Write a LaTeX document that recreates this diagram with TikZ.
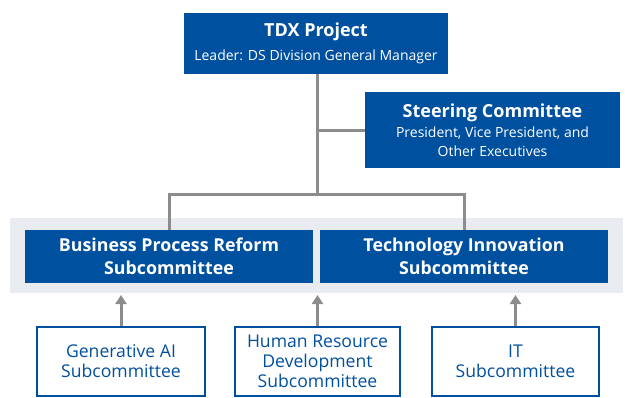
\documentclass[tikz,border=0pt]{standalone}
\usepackage{fontspec}
\setmainfont{Open Sans}
\usetikzlibrary{arrows.meta}
\definecolor{tblue}{RGB}{0,80,160}
\definecolor{tgray}{RGB}{140,140,140}
\definecolor{tband}{RGB}{232,236,240}
\newcommand{\ttl}{\fontsize{18}{22}\selectfont\bfseries}
\newcommand{\sbt}{\fontsize{14}{19}\selectfont\mdseries}
\tikzset{
  bluebox/.style={draw=none,fill=tblue,text=white,inner sep=0pt,align=center},
  midbox/.style={bluebox,minimum width=288pt,minimum height=53pt,font=\fontsize{17.8}{23}\selectfont\bfseries},
  subbox/.style={draw=tblue,line width=1.2pt,fill=white,text=tblue,inner sep=0pt,align=center,
     minimum height=69pt,font=\fontsize{17.6}{19.8}\selectfont},
  conn/.style={draw=tgray,line width=3pt},
  upar/.style={draw=tgray,line width=3pt,-{Triangle[width=11pt,length=9pt]}},
}
\begin{document}
\begin{tikzpicture}[x=1pt,y=-1pt]
\useasboundingbox (0,0) rectangle (628,397);
\fill[tband] (10,218) rectangle (623,293);
\node[bluebox,minimum width=264pt,minimum height=61pt] (tdx) at (316,43)
  {\ttl TDX Project\\[8pt]\sbt Leader: DS Division General Manager};
\node[bluebox,minimum width=255pt,minimum height=76pt] (steer) at (492.5,130)
  {\ttl Steering Committee\\[4pt]\sbt President, Vice President, and\\[6pt]\sbt Other Executives};
\node[midbox] (bpr) at (169,256.5) {Business Process Reform\\Subcommittee};
\node[midbox] (tech) at (464,256.5) {Technology Innovation\\Subcommittee};
\node[subbox,minimum width=168pt] (gen) at (121,361.5) {Generative AI\\Subcommittee};
\node[subbox,minimum width=165pt] (hrd) at (317.5,361.5) {Human Resource\\Development\\Subcommittee};
\node[subbox,minimum width=167pt] (it) at (515.5,361.5) {IT\\Subcommittee};
\coordinate (jn) at (317,194);
\draw[conn] (tdx.south -| jn) -- (jn);
\draw[conn] (317,130) -- (steer.west);
\draw[conn] (bpr.north) |- (jn) -| (tech.north);
\draw[upar] (gen.north) -- ([yshift=-1pt]gen.north |- 0,294);
\draw[upar] (hrd.north) -- ([yshift=-1pt]hrd.north |- 0,294);
\draw[upar] (it.north) -- ([yshift=-1pt]it.north |- 0,294);
\end{tikzpicture}
\end{document}
